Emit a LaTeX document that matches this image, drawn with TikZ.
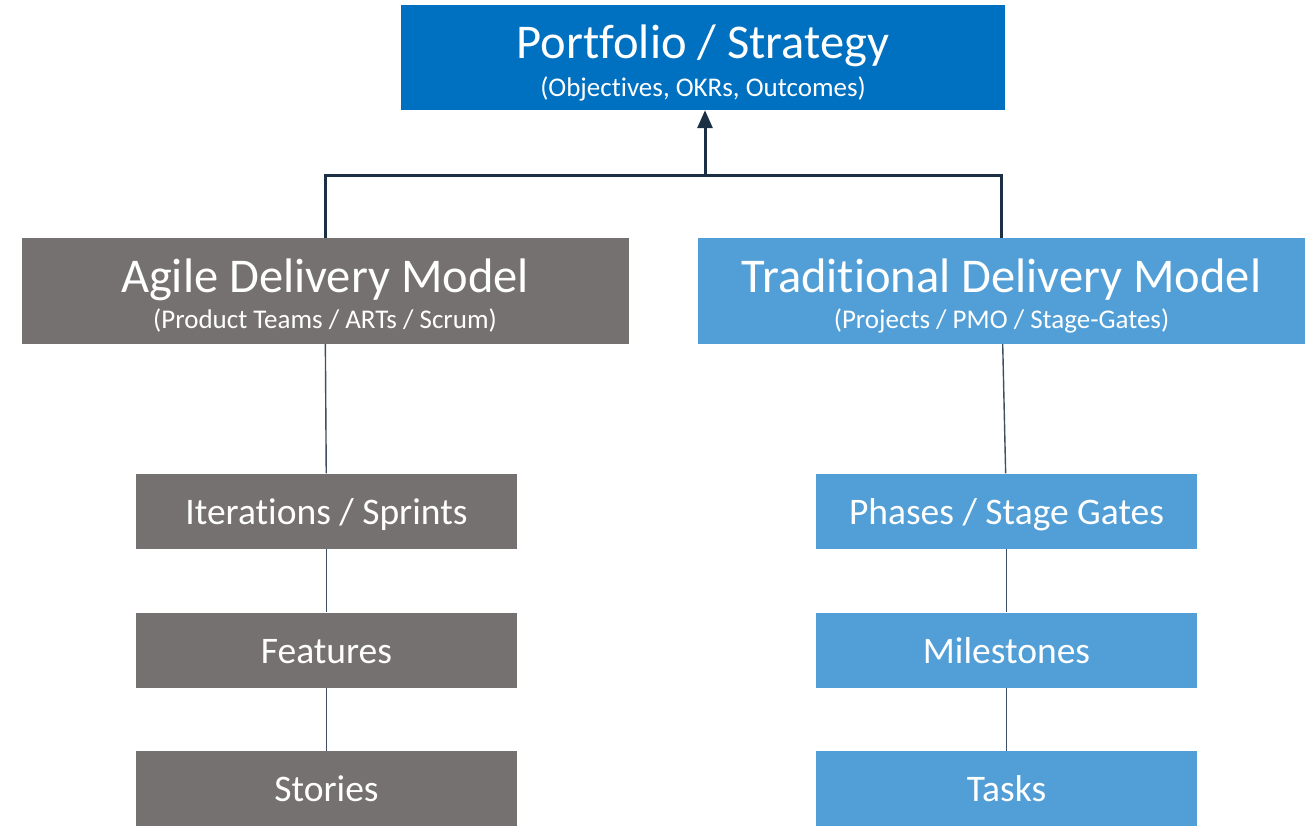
\documentclass[tikz,border=0pt]{standalone}
\usepackage{fontspec}
\setmainfont{Carlito}[Ligatures=NoCommon]
\usetikzlibrary{arrows.meta}

\definecolor{stratblue}{HTML}{0070C0}
\definecolor{agilegray}{HTML}{767171}
\definecolor{tradblue}{HTML}{519FD6}
\definecolor{linkdark}{HTML}{1B3044}
\definecolor{linkthin}{HTML}{3E4F62}

\begin{document}
\begin{tikzpicture}[x=1pt, y=-1pt,
  topbox/.style = {fill=stratblue, minimum width=604pt, minimum height=105pt, inner sep=0pt},
  modelbox/.style = {minimum width=607pt, minimum height=106pt, inner sep=0pt},
  stepbox/.style = {minimum width=381pt, minimum height=75pt, inner sep=0pt, text=white,
                    font=\fontsize{37.5}{42}\selectfont, text height=30pt, text depth=4pt},
  title/.style = {anchor=base, text=white, inner sep=0pt, font=\fontsize{48.5}{56}\selectfont},
  subtitle/.style = {anchor=base, text=white, inner sep=0pt, font=\fontsize{27}{30}\selectfont},
  bigline/.style = {draw=linkdark, line width=3pt},
  smallline/.style = {draw=linkthin, line width=1.4pt}]
  \useasboundingbox (0,0) rectangle (1315,825);

  % top level
  \node[topbox] (port) at (703,57.5) {};
  \node[title] (portT) at ([yshift=-1pt]port.center) {Portfolio / Strategy};
  \node[subtitle] (portS) at ([yshift=-39pt]port.center) {(Objectives, OKRs, Outcomes)};

  % the two delivery models
  \node[modelbox, fill=agilegray] (agile) at (325,291) {};
  \node[title] (agileT) at ([yshift=-1pt]agile.center) {Agile Delivery Model};
  \node[subtitle] (agileS) at ([yshift=-37pt]agile.center) {(Product Teams / ARTs / Scrum)};

  \node[modelbox, fill=tradblue] (trad) at (1001.5,291) {};
  \node[title] (tradT) at ([yshift=-1pt]trad.center) {Traditional Delivery Model};
  \node[subtitle] (tradS) at ([yshift=-37pt]trad.center) {(Projects / PMO / Stage-Gates)};

  % agile levels
  \node[stepbox, fill=agilegray] (iter) at (326.5,511) {Iterations / Sprints};
  \node[stepbox, fill=agilegray] (feat) at (326.5,650) {Features};
  \node[stepbox, fill=agilegray] (stor) at (326.5,788.5) {Stories};

  % traditional levels
  \node[stepbox, fill=tradblue] (phase) at (1006.5,511) {Phases / Stage Gates};
  \node[stepbox, fill=tradblue] (miles) at (1006.5,650) {Milestones};
  \node[stepbox, fill=tradblue] (tasks) at (1006.5,788.5) {Tasks};

  \coordinate (join) at (705,175);
  \draw[bigline] (agile.north) |- (join) -| (trad.north);
  \draw[bigline, -{Triangle[length=18pt, width=15pt]}] (join) -- (join |- port.south);

  \draw[smallline] (agile) -- (iter);
  \draw[smallline] (iter) -- (feat);
  \draw[smallline] (feat) -- (stor);
  \draw[smallline] (trad) -- (phase);
  \draw[smallline] (phase) -- (miles);
  \draw[smallline] (miles) -- (tasks);
\end{tikzpicture}
\end{document}
